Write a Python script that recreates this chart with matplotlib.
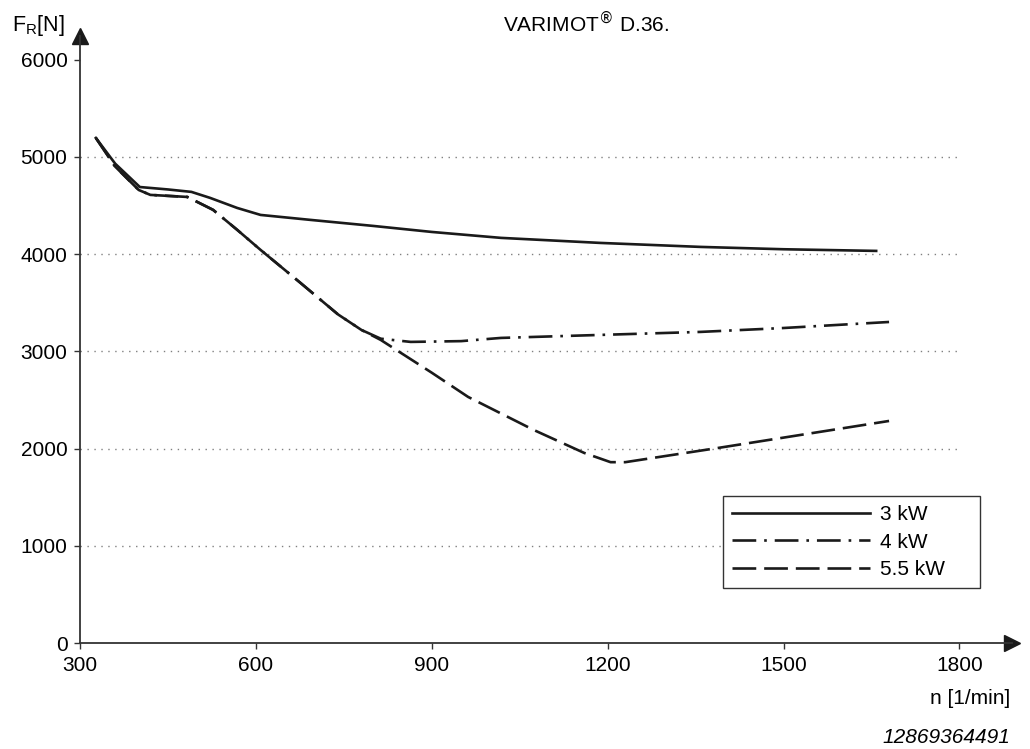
import matplotlib
matplotlib.use("Agg")
import matplotlib.pyplot as plt

plt.rcParams['font.family'] = ['Liberation Sans', 'DejaVu Sans']

# speed n [1/min] and radial force F_R [N]
rpm_3kw = [327, 360, 402, 450, 490, 522, 568, 608, 693, 800, 900, 1018, 1188, 1359, 1500, 1658]
fr_3kw = [5195, 4930, 4690, 4665, 4640, 4578, 4475, 4403, 4352, 4290, 4228, 4167, 4115, 4074, 4050, 4033]

rpm_4kw = [327, 360, 400, 420, 483, 527, 568, 608, 676, 740, 780, 813, 864, 950, 1018, 1188, 1359, 1500, 1680]
fr_4kw = [5195, 4900, 4660, 4609, 4588, 4455, 4250, 4043, 3704, 3380, 3220, 3130, 3097, 3105, 3138, 3169, 3200, 3240, 3302]

rpm_55kw = [327, 360, 400, 420, 483, 527, 568, 608, 676, 740, 780, 813, 900, 962, 1074, 1160, 1205, 1230, 1388, 1680]
fr_55kw = [5195, 4900, 4660, 4609, 4588, 4455, 4250, 4043, 3704, 3380, 3220, 3117, 2780, 2531, 2191, 1955, 1860, 1860, 2006, 2284]

x_ticks = [300, 600, 900, 1200, 1500, 1800]
y_ticks = [0, 1000, 2000, 3000, 4000, 5000, 6000]
grid_levels = [1000, 2000, 3000, 4000, 5000]

fig = plt.figure(figsize=(10.3, 7.49), dpi=100)
ax = fig.add_axes([0.0777, 0.1415, 0.905, 0.81])

ax.hlines(grid_levels, 300, 1800, colors='#808080', linestyles=(0, (1, 4)), lw=1)

lw = 1.9
ax.plot(rpm_3kw, fr_3kw, color='#1a1a1a', lw=lw, label='3 kW')
ax.plot(rpm_4kw, fr_4kw, color='#1a1a1a', lw=lw, ls=(0, (9, 3, 1, 3)), label='4 kW')
ax.plot(rpm_55kw, fr_55kw, color='#1a1a1a', lw=lw, ls=(0, (9, 3)), label='5.5 kW')

ax.set_xlim(300, 1890)
ax.set_ylim(0, 6240)
ax.set_xticks(x_ticks)
ax.set_yticks(y_ticks)
ax.tick_params(labelsize=15, length=4, width=1, colors='#333333', labelcolor='black', pad=5)

for s in ['top', 'right']:
    ax.spines[s].set_visible(False)
for s in ['left', 'bottom']:
    ax.spines[s].set_color('#333333')
    ax.spines[s].set_linewidth(1.3)

# arrow heads on the axes
ax.plot(1, 0, marker='>', color='#1a1a1a', ms=11, transform=ax.transAxes, clip_on=False)
ax.plot(0, 1, marker='^', color='#1a1a1a', ms=11, transform=ax.transAxes, clip_on=False)

fig.text(0.012, 0.966, r'F$_\mathregular{R}$[N]', fontsize=15.5, ha='left', va='center')
fig.text(0.569, 0.970, r'VARIMOT$^{\circledR}$ D.36.', fontsize=15, ha='center', va='center')
fig.text(0.981, 0.068, 'n [1/min]', fontsize=15, ha='right', va='center')
fig.text(0.981, 0.016, '12869364491', fontsize=15, ha='right', va='center', style='italic')

leg = ax.legend(loc='upper left', bbox_to_anchor=(0.702, 0.215, 0.2495, 0.123),
                bbox_transform=fig.transFigure, mode='expand',
                fontsize=15, handlelength=6.6, labelspacing=0.4, fancybox=False,
                framealpha=1, edgecolor='#333333', borderpad=0.45, handletextpad=0.5,
                borderaxespad=0)
leg.get_frame().set_linewidth(1)

fig.savefig('out.png', dpi=100)
